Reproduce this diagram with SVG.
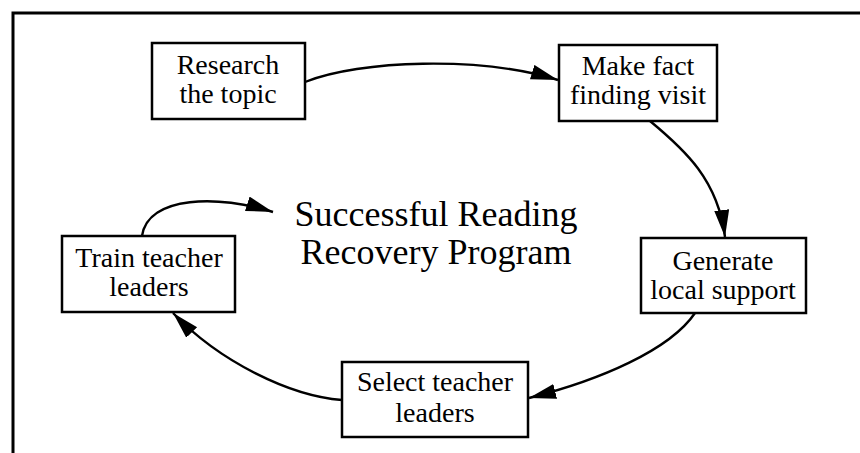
<svg xmlns="http://www.w3.org/2000/svg" width="860" height="453" viewBox="0 0 860 453">
  <style>
    .frame { fill: none; stroke: #000; stroke-width: 3; }
    .box { fill: #fff; stroke: #000; stroke-width: 2.5; }
    .label { font-family: "Liberation Serif", "Times New Roman", serif; font-size: 28px; fill: #000; text-anchor: middle; }
    .title { font-family: "Liberation Serif", "Times New Roman", serif; font-size: 36px; fill: #000; text-anchor: middle; }
    .link { fill: none; stroke: #000; stroke-width: 2.4; marker-end: url(#head); }
  </style>
  <defs>
    <marker id="head" markerUnits="userSpaceOnUse" markerWidth="28" markerHeight="16" refX="27" refY="7.5" orient="auto">
      <path d="M0,0 L27,7.5 L0,15 z" fill="#000"/>
    </marker>
  </defs>

  <rect width="860" height="453" fill="#fff"/>

  <!-- page frame (left and top rules) -->
  <path class="frame" d="M13,453 V13 H860"/>

  <!-- cycle connectors -->
  <g id="connectors">
    <path class="link" d="M305,82 C360,60 480,56 558,80"/>
    <path class="link" d="M650,121 C685,150 718,180 725,237"/>
    <path class="link" d="M695,313 C670,350 600,380 529,398"/>
    <path class="link" d="M342,400 C290,396 220,362 173,313"/>
    <path class="link" d="M142,236 C148,195 220,195 273,212"/>
  </g>

  <g id="research">
    <rect class="box" x="152" y="43" width="153" height="76"/>
    <text class="label" x="228" y="74">Research<tspan x="228" dy="29">the topic</tspan></text>
  </g>

  <g id="fact-finding">
    <rect class="box" x="559" y="45" width="158" height="76"/>
    <text class="label" x="638" y="75">Make fact<tspan x="638" dy="29">finding visit</tspan></text>
  </g>

  <g id="local-support">
    <rect class="box" x="641" y="238" width="165" height="75"/>
    <text class="label" x="723" y="270">Generate<tspan x="723" dy="29">local support</tspan></text>
  </g>

  <g id="select-leaders">
    <rect class="box" x="342" y="362" width="186" height="75"/>
    <text class="label" x="435" y="391">Select teacher<tspan x="435" dy="31">leaders</tspan></text>
  </g>

  <g id="train-leaders">
    <rect class="box" x="62" y="236" width="173" height="76"/>
    <text class="label" x="149" y="267">Train teacher<tspan x="149" dy="29">leaders</tspan></text>
  </g>

  <g id="goal">
    <text class="title" x="436" y="226">Successful Reading<tspan x="436" dy="38">Recovery Program</tspan></text>
  </g>
</svg>
